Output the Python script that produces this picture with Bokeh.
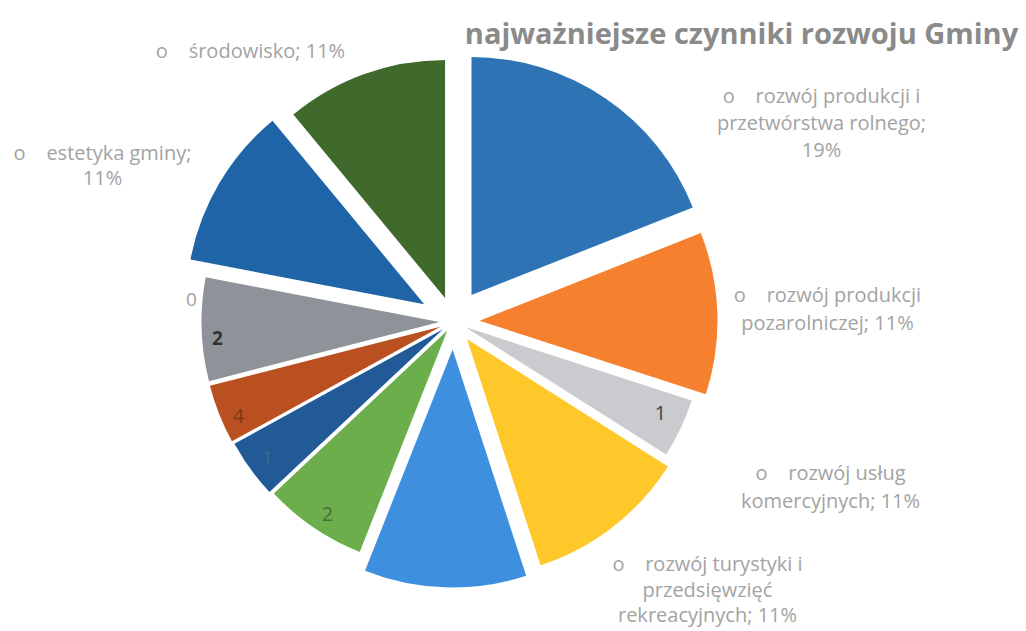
import math
from bokeh.plotting import figure
from bokeh.models import Range1d, ColumnDataSource
from bokeh.core.properties import value
from bokeh.embed import file_html
from bokeh.resources import INLINE

# ---- data ----
categories = [
    "rozwój produkcji i przetwórstwa rolnego",
    "rozwój produkcji pozarolniczej",
    "kat. 3",
    "rozwój usług komercyjnych",
    "rozwój turystyki i przedsięwzięć rekreacyjnych",
    "kat. 6",
    "kat. 7",
    "kat. 8",
    "kat. 9",
    "estetyka gminy",
    "środowisko",
]
values = [19, 11, 4, 11, 11, 7, 4, 4, 7, 11, 11]
colors = ["#2E74B5", "#F5812F", "#C9CBCE", "#FFC82A", "#3F8FDF", "#6BAE4B",
          "#215A96", "#BA5020", "#8D9398", "#1F64A6", "#3F6A2C"]
title_text = "najważniejsze czynniki rozwoju Gminy"
B = "o\u00a0\u00a0\u00a0\u00a0"
label_lines = [
    [B + "rozwój produkcji i", "przetwórstwa rolnego;", "19%"],
    [B + "rozwój produkcji", "pozarolniczej; 11%"],
    ["1"],
    [B + "rozwój usług", "komercyjnych; 11%"],
    [B + "rozwój turystyki i", "przedsięwzięć", "rekreacyjnych; 11%"],
    ["2"],
    ["1"],
    ["4"],
    ["0", "2"],
    [B + "estetyka gminy;", "11%"],
    [B + "środowisko; 11%"],
]

# ---- layout / style (screen px -> data: x = sx, y = 631 - sy) ----
W, H = 1026, 631
CX, CY = 453, H - 321
R = 238
explode = [32, 26, 13, 22, 28, 11, 13, 14, 14, 34, 25]

p = figure(width=W, height=H, output_backend="svg", toolbar_location=None,
           x_range=Range1d(0, W), y_range=Range1d(0, H),
           min_border=0)
p.axis.visible = False
p.grid.visible = False
p.outline_line_color = None
p.background_fill_color = "white"
p.border_fill_color = "white"

total = float(sum(values))
xs, ys, sa, ea = [], [], [], []
cum = 0.0
for v, e in zip(values, explode):
    t1 = cum / total * 360.0
    cum += v
    t2 = cum / total * 360.0
    tm = math.radians((t1 + t2) / 2)
    xs.append(CX + e * math.sin(tm))
    ys.append(CY + e * math.cos(tm))
    sa.append(math.radians(90 - t1))
    ea.append(math.radians(90 - t2))

src = ColumnDataSource(dict(x=xs, y=ys, s=sa, e=ea, c=colors, cat=categories, v=values))
p.wedge(x="x", y="y", radius=R, radius_units="screen", start_angle="s", end_angle="e",
        direction="clock", fill_color="c", line_color=None, source=src)

# ---- labels (positions in screen px) ----
label_pos = [
    (821, 95, 27), (827, 294, 28), (660, 412, 0), (830, 472, 28), (707, 563, 25.5),
    (327, 513, 0), (267, 457, 0), (238, 415, 0), (0, 0, 0), (102, 152, 25), (250, 50, 0),
]
label_colors = ["#a3a3a3", "#a3a3a3", "#444444", "#a3a3a3", "#a3a3a3",
                "#4a6e38", "#3d6a8a", "#7a3a18", None, "#a3a3a3", "#a3a3a3"]

tx, ty, tt, tc = [], [], [], []
for i, lines in enumerate(label_lines):
    lx, ly, dy = label_pos[i]
    if i == 8:
        continue
    for k, line in enumerate(lines):
        tx.append(lx)
        ty.append(H - (ly + k * dy))
        tt.append(line)
        tc.append(label_colors[i])
p.text(x=tx, y=ty, text=tt, text_color=tc, text_font=value("Open Sans"),
       text_font_size="20px", text_align="center", text_baseline="middle")

# gray slice labels "0" and "2"
p.text(x=[191], y=[H - 299], text=[label_lines[8][0]], text_color="#a0a0a0",
       text_font=value("Open Sans"), text_font_size="19px",
       text_align="center", text_baseline="middle")
p.text(x=[217], y=[H - 337], text=[label_lines[8][1]], text_color="#333333",
       text_font=value("Open Sans"), text_font_size="19px", text_font_style="bold",
       text_align="center", text_baseline="middle")

# title
p.text(x=[741], y=[H - 32], text=[title_text], text_color="#8a8a8a",
       text_font=value("Open Sans"), text_font_size="29px", text_font_style="bold",
       text_align="center", text_baseline="middle")

open("out.html", "w").write(file_html(p, INLINE))
